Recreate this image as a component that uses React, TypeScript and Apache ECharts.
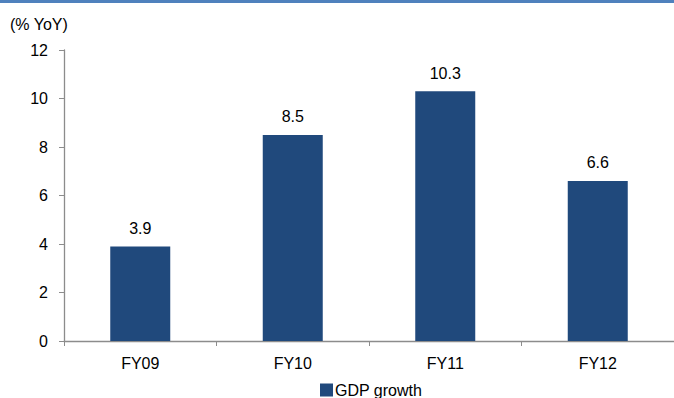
import React, { useEffect, useRef } from "react";
import * as echarts from "echarts";

const categories = ["FY09", "FY10", "FY11", "FY12"];
const gdpGrowth = [3.9, 8.5, 10.3, 6.6];
const yTicks = { min: 0, max: 12, interval: 2 };
const seriesName = "GDP growth";
const unitLabel = "(% YoY)";

const FONT = "Arial, 'Liberation Sans', sans-serif";

export default function App() {
  const ref = useRef<HTMLDivElement>(null);
  useEffect(() => {
    document.body.style.margin = "0";
    const chart = echarts.init(ref.current!, null, { renderer: "svg" });
    chart.setOption({
      animation: false,
      backgroundColor: "#ffffff",
      textStyle: { fontFamily: FONT },
      graphic: [
        { type: "rect", left: 0, top: 0, shape: { width: 674, height: 3 }, style: { fill: "#4F81BD" } },
        { type: "text", left: 10, top: 16, style: { text: unitLabel, fontSize: 16, fill: "#000", fontFamily: FONT } },
      ],
      legend: {
        data: [seriesName],
        left: 320,
        top: 382,
        itemWidth: 13,
        itemHeight: 13,
        itemGap: 3,
        icon: "rect",
        textStyle: { fontSize: 16, color: "#000", fontFamily: FONT, padding: [0, 0, 0, -3] },
        padding: 0,
      },
      grid: { left: 64, top: 50, width: 616, height: 291, containLabel: false },
      xAxis: {
        type: "category",
        data: categories,
        axisLine: { lineStyle: { color: "#8c8c8c", width: 1.3 } },
        axisTick: { show: true, length: 5, alignWithLabel: false, lineStyle: { color: "#8c8c8c" } },
        axisLabel: { color: "#000", fontSize: 16, margin: 14, fontFamily: FONT },
      },
      yAxis: {
        type: "value",
        min: yTicks.min,
        max: yTicks.max,
        interval: yTicks.interval,
        axisLine: { show: true, lineStyle: { color: "#8c8c8c", width: 1.3 } },
        axisTick: { show: true, length: 5, lineStyle: { color: "#8c8c8c" } },
        splitLine: { show: false },
        axisLabel: { color: "#000", fontSize: 16, margin: 16, fontFamily: FONT },
      },
      series: [
        {
          name: seriesName,
          type: "bar",
          data: gdpGrowth,
          barWidth: 60,
          itemStyle: { color: "#20497C" },
          label: { show: true, position: "top", distance: 10, color: "#000", fontSize: 16, fontFamily: FONT },
        },
      ],
    });
    return () => chart.dispose();
  }, []);
  return <div ref={ref} style={{ width: 674, height: 398 }} />;
}
